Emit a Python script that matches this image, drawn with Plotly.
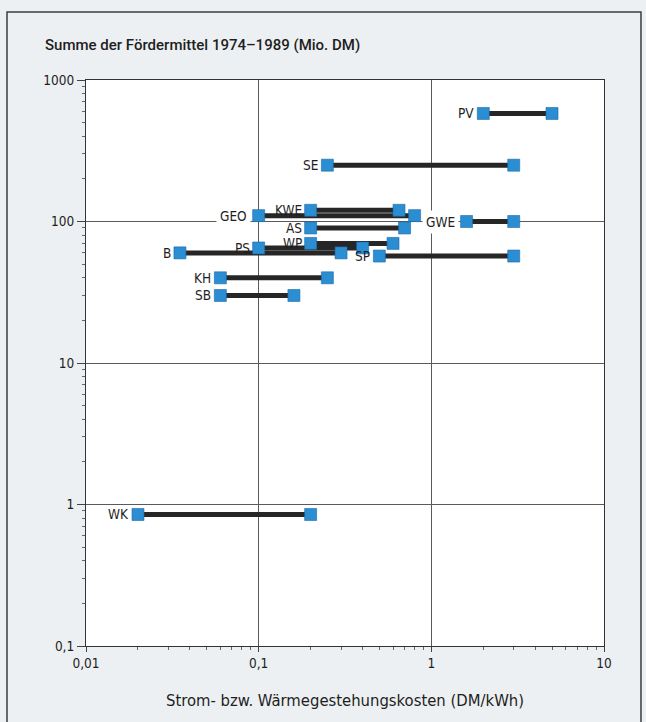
import math
import plotly.graph_objects as go

# ---- data ----
labels = ["PV", "SE", "KWE", "GEO", "GWE", "AS", "WP", "PS", "B", "SP", "KH", "SB", "WK"]
cost_low = [2.0, 0.25, 0.2, 0.1, 1.6, 0.2, 0.2, 0.1, 0.035, 0.5, 0.06, 0.06, 0.02]
cost_high = [5.0, 3.0, 0.65, 0.8, 3.0, 0.7, 0.6, 0.4, 0.3, 3.0, 0.25, 0.16, 0.2]
funding = [580, 250, 120, 110, 100, 90, 70, 65, 60, 57, 40, 30, 0.85]

x_tickvals = [0.01, 0.1, 1, 10]
x_ticktext = ["0,01", "0,1", "1", "10"]
y_tickvals = [0.1, 1, 10, 100, 1000]
y_ticktext = ["0,1", "1", "10", "100", "1000"]

FONT = "Liberation Sans Narrow, DejaVu Sans Condensed, Roboto, sans-serif"
TITLE_FONT = "Roboto, Liberation Sans, sans-serif"
TXT = "#1e1e1e"
BLUE = "#2b8dd2"

# segments
seg_x, seg_y = [], []
for lo, hi, f in zip(cost_low, cost_high, funding):
    seg_x += [lo, hi, None]
    seg_y += [f, f, None]

mk_x = cost_low + cost_high
mk_y = funding + funding

fig = go.Figure()
fig.add_trace(go.Scatter(x=seg_x, y=seg_y, mode="lines",
                         line=dict(color="#262626", width=5),
                         hoverinfo="skip", showlegend=False))
fig.add_trace(go.Scatter(x=mk_x, y=mk_y, mode="markers",
                         marker=dict(symbol="square", size=12, color=BLUE,
                                     line=dict(color="#1d6aa8", width=0.6)),
                         showlegend=False))

bg_labels = {"GEO", "GWE"}
for lab, lo, f in zip(labels, cost_low, funding):
    fig.add_annotation(x=math.log10(lo), y=math.log10(f), text=lab,
                       showarrow=False, xanchor="right", yanchor="middle",
                       xshift=-8, font=dict(family=FONT, size=13.5, color=TXT),
                       bgcolor="white" if lab in bg_labels else None,
                       borderpad=3 if lab in bg_labels else 0)

minor_x = [k * 10 ** e for e in (-2, -1, 0) for k in range(2, 10)]
minor_y = [k * 10 ** e for e in (-1, 0, 1, 2) for k in range(2, 10)]

fig.update_xaxes(type="log", range=[-2, 1], tickvals=x_tickvals, ticktext=x_ticktext,
                 showgrid=True, gridcolor="#5a5a5a", gridwidth=1,
                 showline=True, linecolor="#333333", linewidth=1.2, mirror=True,
                 ticks="outside", ticklen=5, tickcolor="#444444",
                 minor=dict(tickvals=minor_x, ticks="outside", ticklen=3,
                            tickcolor="#666666", showgrid=False),
                 tickfont=dict(family=FONT, size=13.5, color=TXT),
                 zeroline=False,
                 title=dict(text="Strom- bzw. Wärmegestehungskosten (DM/kWh)",
                            font=dict(family=FONT, size=16.5, color=TXT), standoff=24))
fig.update_yaxes(type="log", range=[-1, 3], tickvals=y_tickvals, ticktext=y_ticktext,
                 showgrid=True, gridcolor="#5a5a5a", gridwidth=1,
                 showline=True, linecolor="#333333", linewidth=1.2, mirror=True,
                 ticks="outside", ticklen=8, tickcolor="#444444",
                 minor=dict(tickvals=minor_y, ticks="outside", ticklen=3,
                            tickcolor="#666666", showgrid=False),
                 tickfont=dict(family=FONT, size=13.5, color=TXT),
                 zeroline=False)

# outer frame
fig.add_shape(type="rect", xref="paper", yref="paper",
              x0=-0.1525, x1=1.0714, y0=-0.16, y1=1.1201,
              line=dict(color="#3c3c3c", width=1.5), fillcolor="rgba(0,0,0,0)",
              layer="below")

fig.update_layout(
    width=646, height=722,
    margin=dict(l=86, r=42, t=80, b=76),
    paper_bgcolor="#edf0f2",
    plot_bgcolor="white",
    title=dict(text="Summe der Fördermittel 1974–1989 (Mio. DM)",
               x=45 / 646, xanchor="left", y=1 - 45 / 722, yanchor="middle",
               font=dict(family=TITLE_FONT, size=15, color=TXT, weight=500)),
    showlegend=False,
)

fig.write_html("out.html", config={"displayModeBar": False},
               post_script="document.body.style.margin='0';")
